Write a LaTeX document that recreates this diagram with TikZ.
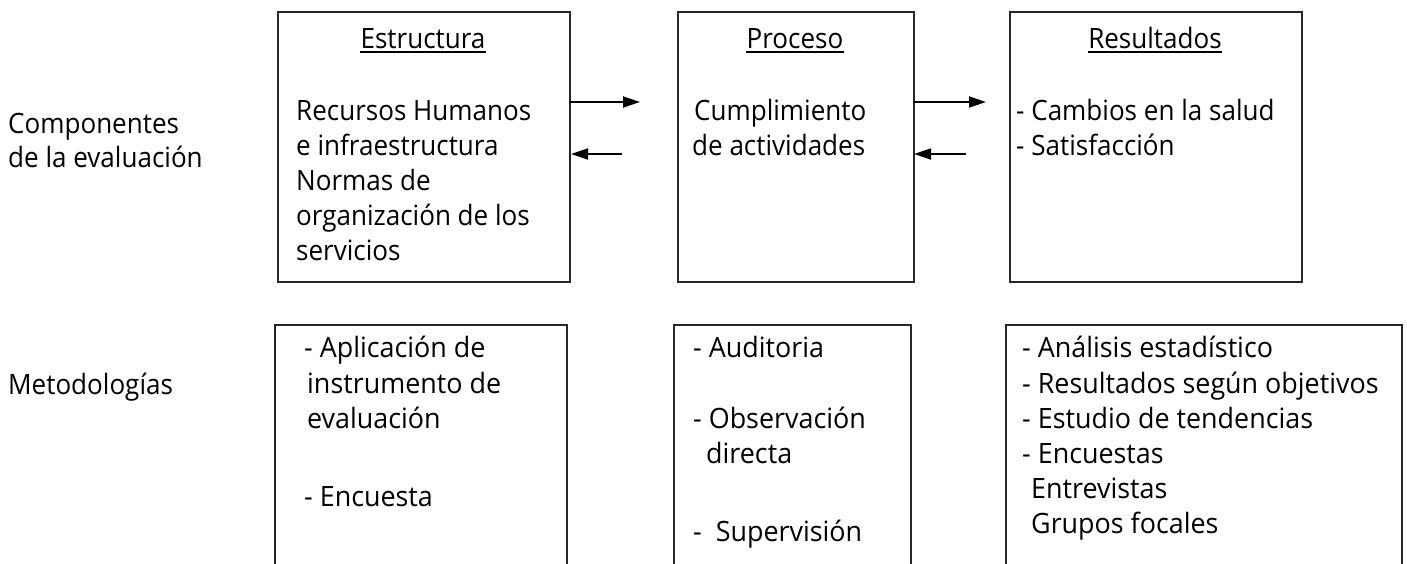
\documentclass[tikz,border=0pt]{standalone}
\usepackage{fontspec}
\setmainfont{Open Sans}
\usetikzlibrary{arrows.meta}
\begin{document}
\begin{tikzpicture}[x=1pt,y=-1pt,
  box/.style={draw=black!85,line width=1.8pt},
  txt/.style={inner sep=0pt,anchor=base west,font=\fontsize{28}{35}\selectfont,xscale=0.93},
  ttl/.style={inner sep=0pt,anchor=base,font=\fontsize{28}{35}\selectfont,xscale=0.93},
  arr/.style={line width=1.8pt,-{Triangle[length=17pt,width=11pt]}},
  btx/.style={inner sep=0pt,anchor=base west,font=\fontsize{28}{35}\selectfont,xscale=0.96}]
\useasboundingbox (0,0) rectangle (1407,563);
\clip (0,0) rectangle (1407,563);
% top boxes
\node[box,minimum width=292pt,minimum height=270pt,inner sep=0pt,anchor=north west] (b1) at (277,11) {};
\node[box,minimum width=236pt,minimum height=270pt,inner sep=0pt,anchor=north west] (b2) at (677,11) {};
\node[box,minimum width=292pt,minimum height=270pt,inner sep=0pt,anchor=north west] (b3) at (1009,11) {};
% bottom boxes (cut off at the lower edge)
\draw[box] (275,600) -- (275,325) -- (567,325) -- (567,600);
\draw[box] (674,600) -- (674,325) -- (911,325) -- (911,600);
\draw[box] (1006,600) -- (1006,325) -- (1402,325) -- (1402,600);
% left labels
\node[txt] (c1) at (8,133) {Componentes};
\node[txt] (c2) at (8,167) {de la evaluación};
\node[txt] (m1) at (8,394) {Metodologías};
% titles
\node[ttl] (t1) at (423,48) {Estructura};
\node[ttl] (t2) at (795,48) {Proceso};
\node[ttl] (t3) at (1155,48) {Resultados};
\foreach \t in {t1,t2,t3} \draw[line width=1.6pt] ([yshift=-4pt]\t.base west) -- ([yshift=-4pt]\t.base east);
% box 1 text
\node[txt] (e1) at (296,120) {Recursos Humanos};
\node[txt] (e2) at (296,155) {e infraestructura};
\node[txt] (e3) at (296,190) {Normas de};
\node[txt] (e4) at (296,225) {organización de los};
\node[txt] (e5) at (296,260) {servicios};
% box 2 text
\node[txt] (p1) at (694,120) {Cumplimiento};
\node[txt] (p2) at (692,155) {de actividades};
% box 3 text
\node[txt] (r1) at (1016,120) {- Cambios en la salud};
\node[txt] (r2) at (1016,155) {- Satisfacción};
% arrows
\coordinate (a1s) at (569,102); \coordinate (a1e) at (640,102);
\coordinate (a2s) at (622,154); \coordinate (a2e) at (571,154);
\coordinate (a3s) at (913,102); \coordinate (a3e) at (986,102);
\coordinate (a4s) at (966,154); \coordinate (a4e) at (914,154);
\draw[arr] (a1s) -- (a1e);
\draw[arr] (a2s) -- (a2e);
\draw[arr] (a3s) -- (a3e);
\draw[arr] (a4s) -- (a4e);
% bottom box 1
\node[btx] (x1) at (304,357) {- Aplicación de};
\node[btx] (x2) at (307,393) {instrumento de};
\node[btx] (x3) at (307,428) {evaluación};
\node[btx] (x4) at (304,506) {- Encuesta};
% bottom box 2
\node[btx] (y1) at (693,357) {- Auditoria};
\node[btx] (y2) at (693,428) {- Observación};
\node[btx] (y3) at (706,463) {directa};
\node[btx] (y4) at (693,541) {-\ \ Supervisión};
% bottom box 3
\node[btx] (z1) at (1022,357) {- Análisis estadístico};
\node[btx] (z2) at (1022,393) {- Resultados según objetivos};
\node[btx] (z3) at (1022,428) {- Estudio de tendencias};
\node[btx] (z4) at (1022,463) {- Encuestas};
\node[btx] (z5) at (1031,498) {Entrevistas};
\node[btx] (z6) at (1031,533) {Grupos focales};
\end{tikzpicture}
\end{document}
